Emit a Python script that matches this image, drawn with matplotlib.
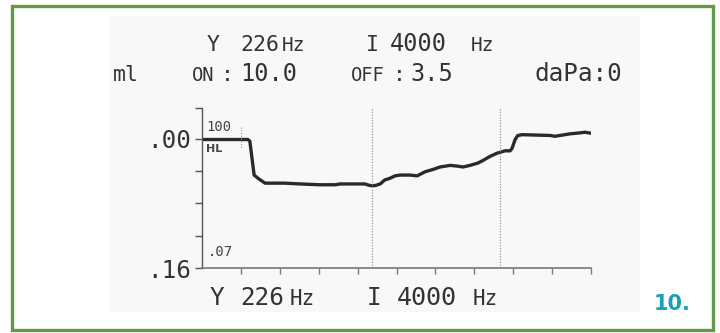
import numpy as np
import matplotlib.pyplot as plt
from matplotlib.patches import Rectangle

# tympanometry trace (x in time units, y in ml, inverted axis)
trace_x = [0.0, 1.18, 1.23, 1.34, 1.44, 1.62, 2.13, 2.52, 3.03, 3.42, 3.55, 4.19,
           4.32, 4.45, 4.58, 4.70, 4.83, 4.96, 5.09, 5.35, 5.53, 5.73, 5.94, 6.12,
           6.38, 6.58, 6.71, 6.89, 7.10, 7.22, 7.40, 7.58, 7.79, 7.92, 7.97, 8.05,
           8.12, 8.23, 8.95, 9.07, 9.20, 9.46, 9.67, 9.85, 9.97]
trace_y = [0.001, 0.001, 0.003, 0.045, 0.049, 0.055, 0.055, 0.056, 0.057, 0.057, 0.056, 0.056,
           0.058, 0.058, 0.056, 0.051, 0.049, 0.046, 0.045, 0.045, 0.046, 0.041, 0.038, 0.035,
           0.033, 0.034, 0.035, 0.033, 0.030, 0.027, 0.022, 0.018, 0.015, 0.015, 0.012, 0.001,
           -0.004, -0.005, -0.004, -0.003, -0.004, -0.006, -0.007, -0.008, -0.007]
marker_x = [4.37, 7.66]
y_ticks = [0.0, 0.04, 0.08, 0.12, 0.16]
y_labels = ['.00', '', '', '', '.16']
x_ticks = [1, 2, 3, 4, 5, 6, 7, 8, 9, 10]
y_top = -0.038

W, H = 720, 333
MONO = 'DejaVu Sans Mono'
fig = plt.figure(figsize=(7.2, 3.33), dpi=100)
fig.patch.set_facecolor('white')

def fx(px):
    return px / W

def fy(py):
    return 1 - py / H

# light panel and green frame
fig.patches.append(Rectangle((fx(110), fy(312)), fx(640) - fx(110), fy(16) - fy(312),
                             transform=fig.transFigure, facecolor='#f8f8f8',
                             edgecolor='none', zorder=-5))
fig.patches.append(Rectangle((fx(12), fy(330)), fx(713) - fx(12), fy(6) - fy(330),
                             transform=fig.transFigure, facecolor='none',
                             edgecolor='#64994c', linewidth=2.4, zorder=5))

ax = fig.add_axes([fx(202), fy(268), fx(591) - fx(202), fy(108) - fy(268)])
ax.set_facecolor('none')
ax.plot(trace_x, trace_y, color='#2a2a2a', linewidth=2.4, solid_joinstyle='round')
for mx in marker_x:
    ax.axvline(mx, color='#888888', linewidth=0.8, linestyle=(0, (1, 1.5)))
ax.plot([1.0, 1.0], [-0.015, 0.012], color='#999999', linewidth=0.8, linestyle=(0, (1, 1.5)))

ax.set_xlim(0, 10)
ax.set_ylim(0.16, y_top)
for s in ['top', 'right']:
    ax.spines[s].set_visible(False)
ax.spines['left'].set_color('#555555')
ax.spines['bottom'].set_color('#777777')
ax.spines['left'].set_linewidth(1.0)
ax.spines['bottom'].set_linewidth(1.2)

ax.set_yticks(y_ticks + [y_top])
ax.set_yticklabels(y_labels + [''], fontfamily=MONO)
ax.tick_params(axis='y', direction='out', length=5, width=1, color='#555555',
               labelsize=17.5, labelcolor='#333333', pad=3)
ax.set_xticks(x_ticks)
ax.set_xticklabels([])
ax.tick_params(axis='x', direction='out', length=4, width=1, color='#777777')

ax.text(0.12, -0.01, '100', fontsize=10, color='#444444', ha='left', va='baseline',
        fontfamily=MONO)
ax.text(0.1, 0.017, 'HL', fontsize=8, color='#444444', ha='left', va='baseline',
        fontweight='bold')
ax.text(0.15, 0.145, '.07', fontsize=10, color='#444444', ha='left', va='baseline',
        fontfamily=MONO)

c = '#333333'
def t(px, py, s, size, **kw):
    fig.text(fx(px), fy(py), s, fontsize=size, color=c, ha='left', va='baseline',
             fontfamily=MONO, **kw)

# header line 1
t(207, 51, 'Y', 15.5)
t(240, 51, '226', 15.5)
t(282, 51, 'Hz', 14)
t(366, 51, 'I', 15.5)
t(390, 51, '4000', 17)
t(471, 51, 'Hz', 14)
# header line 2
t(113, 81, 'ml', 15.5)
t(192, 81, 'ON', 13.5)
t(221, 81, ':', 15.5)
t(240, 81, '10.0', 17)
t(351, 81, 'OFF', 13.5)
t(393, 81, ':', 15.5)
t(410, 81, '3.5', 17)
t(535, 81, 'daPa:0', 17.5)
# footer
t(210, 305, 'Y', 17.5)
t(240, 305, '226', 17.5)
t(290, 305, 'Hz', 15)
t(367, 305, 'I', 17.5)
t(397, 305, '4000', 18)
t(473, 305, 'Hz', 15)
fig.text(fx(654), fy(310), '10.', fontsize=15, color='#1aa0b4', fontweight='bold',
         ha='left', va='baseline')

fig.savefig('out.png', dpi=100)
